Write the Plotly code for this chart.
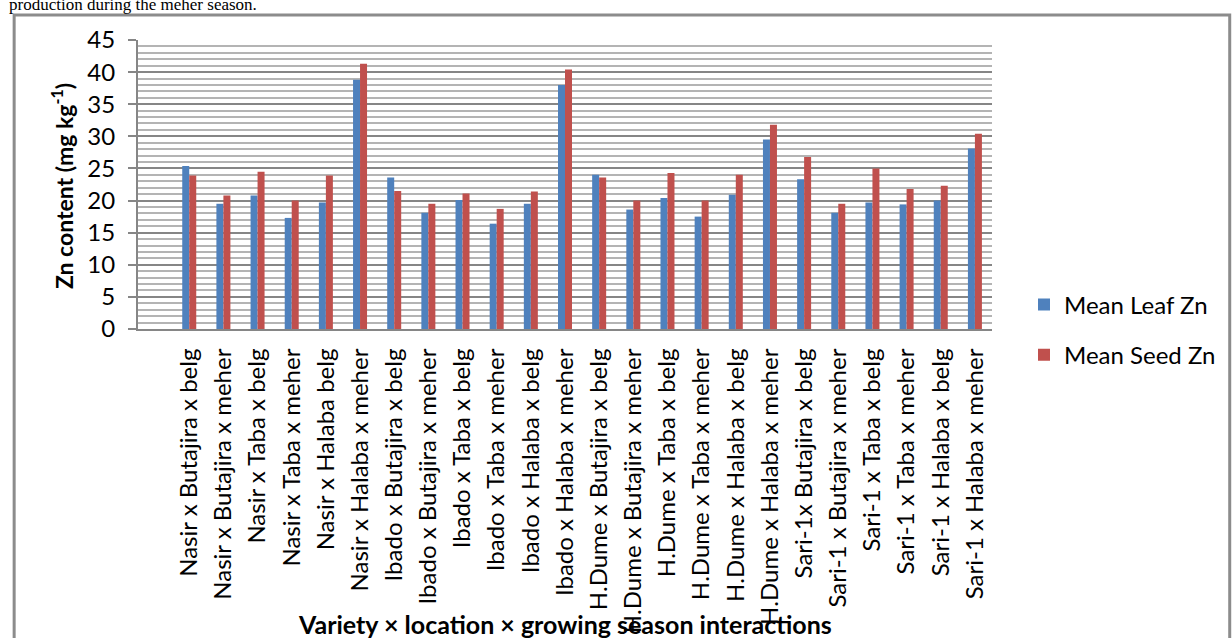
import plotly.graph_objects as go

# Variety x location x growing season combinations
categories = [
    "Nasir x Butajira x belg", "Nasir x Butajira x meher",
    "Nasir x Taba x belg", "Nasir x Taba x meher",
    "Nasir x Halaba belg", "Nasir x Halaba x meher",
    "Ibado x Butajira x belg", "Ibado x Butajira x meher",
    "Ibado x Taba x belg", "Ibado x Taba x meher",
    "Ibado x Halaba x belg", "Ibado x Halaba x meher",
    "H.Dume x Butajira x belg", "H.Dume x Butajira x meher",
    "H.Dume x Taba x belg", "H.Dume x Taba x meher",
    "H.Dume x Halaba x belg", "H.Dume x Halaba x meher",
    "Sari-1x Butajira x belg", "Sari-1 x Butajira x meher",
    "Sari-1 x Taba x belg", "Sari-1 x Taba x meher",
    "Sari-1 x Halaba x belg", "Sari-1 x Halaba x meher",
]
leaf_zn = [25.4, 19.5, 20.8, 17.3, 19.7, 38.8, 23.6, 18.1, 20.1, 16.4, 19.5, 38.0,
           24.0, 18.6, 20.4, 17.5, 20.9, 29.5, 23.3, 18.1, 19.7, 19.4, 20.0, 28.1]
seed_zn = [23.9, 20.8, 24.5, 20.0, 23.9, 41.3, 21.5, 19.5, 21.1, 18.7, 21.4, 40.4,
           23.6, 20.0, 24.3, 20.0, 24.0, 31.8, 26.8, 19.5, 25.0, 21.8, 22.3, 30.4]

FONT = "Lato"
W, H = 1232, 638
L, R, T, B = 138, 993, 40, 329  # plot area in pixels


def px_x(x):
    return (x - L) / (R - L)


def px_y(y):
    return (B - y) / (B - T)


fig = go.Figure()
fig.add_trace(go.Bar(x=categories, y=leaf_zn, name="Mean Leaf Zn",
                     marker=dict(color="#4F81BD", line=dict(width=0)),
                     legendgroup="a"))
fig.add_trace(go.Bar(x=categories, y=seed_zn, name="Mean Seed Zn",
                     marker=dict(color="#C0504D", line=dict(width=0)),
                     legendgroup="b"))

fig.update_layout(
    width=W, height=H,
    margin=dict(l=L, r=W - R, t=T, b=H - B, pad=0),
    paper_bgcolor="white", plot_bgcolor="white",
    barmode="group", bargap=0.59, bargroupgap=0,
    font=dict(family=FONT, color="black"),
    showlegend=True,
    legend=dict(x=px_x(1024), y=px_y(330), xanchor="left", yanchor="middle",
                font=dict(size=24, family=FONT), tracegroupgap=16,
                traceorder="grouped", itemwidth=30),
    xaxis=dict(type="category", range=[-1.5, 23.5], tickangle=-90,
               tickfont=dict(size=24, family=FONT), showgrid=False,
               showline=True, linecolor="#868686", linewidth=2, automargin=False,
               ticks="", ticklabelstandoff=8),
    yaxis=dict(range=[0, 45], dtick=5, tickfont=dict(size=24, family=FONT),
               showline=True, linecolor="#868686", linewidth=2, automargin=False,
               ticks="outside", ticklen=8, tickcolor="#868686", tickwidth=2,
               ticklabelstandoff=8,
               gridcolor="#868686", gridwidth=1.5, zeroline=False,
               minor=dict(dtick=1, showgrid=True, gridcolor="#B4B4B4", gridwidth=1.5)),
)

fig.add_annotation(text="Zn content (mg kg<sup>-1</sup>)", textangle=-90,
                   xref="paper", yref="paper", x=px_x(62), y=px_y(186),
                   xanchor="center", yanchor="middle",
                   showarrow=False, font=dict(size=23, family=FONT, weight="bold"))
fig.add_annotation(text="Variety × location × growing season interactions",
                   xref="paper", yref="paper", x=px_x(565), y=px_y(624),
                   xanchor="center", yanchor="middle",
                   showarrow=False, font=dict(size=25, family=FONT, weight="bold"))
fig.add_annotation(text="production during the meher season.",
                   xref="paper", yref="paper", x=px_x(7), y=px_y(4),
                   xanchor="left", yanchor="middle", showarrow=False,
                   font=dict(size=17, family="Liberation Serif"))

# page frame around the chart
fig.add_shape(type="rect", xref="paper", yref="paper", layer="below",
              x0=px_x(14), x1=px_x(1231), y0=px_y(650), y1=px_y(15),
              line=dict(color="#8C8C8C", width=3))

fig.write_html("out.html", config={"displayModeBar": False},
               post_script="document.body.style.margin='0';")
